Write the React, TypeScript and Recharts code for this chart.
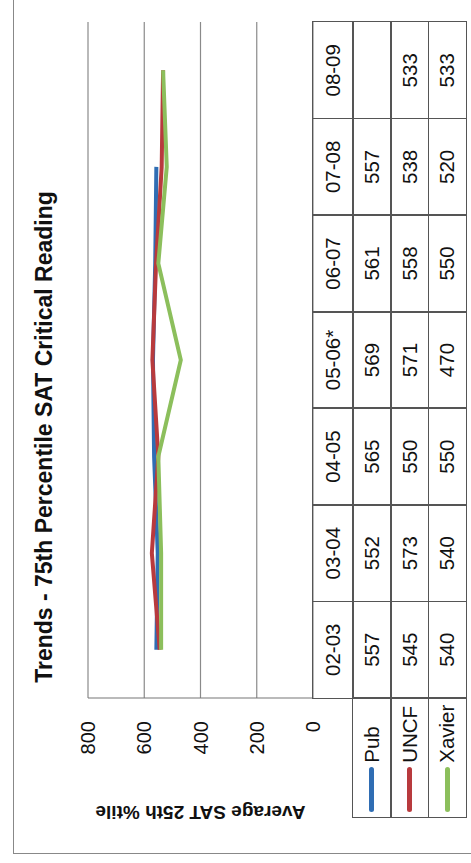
import React from 'react';
import { LineChart, Line, XAxis, YAxis, CartesianGrid } from 'recharts';

const CATEGORIES = ['02-03', '03-04', '04-05', '05-06*', '06-07', '07-08', '08-09'];
const PUB = [557, 552, 565, 569, 561, 557, null];
const UNCF = [545, 573, 550, 571, 558, 538, 533];
const XAVIER = [540, 540, 550, 470, 550, 520, 533];
const Y_TICKS = [0, 200, 400, 600, 800];

const SERIES = [
  { key: 'pub', name: 'Pub', values: PUB, color: '#2f6db3' },
  { key: 'uncf', name: 'UNCF', values: UNCF, color: '#b83a3d' },
  { key: 'xavier', name: 'Xavier', values: XAVIER, color: '#8cbf5c' },
];

// landscape geometry, the whole thing is turned a quarter turn afterwards
const W = 863;
const H = 471;
const PLOT_LEFT = 165;
const PLOT_RIGHT = 841;
const PLOT_TOP = 88;
const PLOT_BOTTOM = 313;
const COL_W = (PLOT_RIGHT - PLOT_LEFT) / CATEGORIES.length;
const LABEL_LEFT = 46;
const HEADER_H = 40;
const ROW_H = 37.7;
const BORDER = '#555';
const FONT = '"Liberation Sans", Arial, sans-serif';

const chartData = CATEGORIES.map((cat, i) => {
  const row: any = { cat };
  SERIES.forEach(s => { row[s.key] = s.values[i]; });
  return row;
});

const cell = (left: number, top: number, width: number, height: number): React.CSSProperties => ({
  position: 'absolute',
  left,
  top,
  width,
  height,
  boxSizing: 'border-box',
  border: `1.6px solid ${BORDER}`,
  marginLeft: -0.8,
  marginTop: -0.8,
  display: 'flex',
  alignItems: 'center',
  justifyContent: 'center',
  fontSize: 20.5,
  color: '#111',
});

const DataTable = () => (
  <>
    {CATEGORIES.map((cat, i) => (
      <div key={cat} style={cell(PLOT_LEFT + i * COL_W, PLOT_BOTTOM, COL_W + 1.6, HEADER_H + 1.6)}>
        {cat}
      </div>
    ))}
    {SERIES.map((s, r) => {
      const top = PLOT_BOTTOM + HEADER_H + r * ROW_H;
      return (
        <React.Fragment key={s.key}>
          <div style={{ ...cell(LABEL_LEFT, top, PLOT_LEFT - LABEL_LEFT + 1.6, ROW_H + 1.6), justifyContent: 'flex-start' }}>
            <span style={{ display: 'inline-block', width: 45, height: 5, borderRadius: 3, background: s.color, marginLeft: 5, marginRight: 4 }} />
            <span>{s.name}</span>
          </div>
          {s.values.map((v, i) => (
            <div key={i} style={cell(PLOT_LEFT + i * COL_W, top, COL_W + 1.6, ROW_H + 1.6)}>
              {v == null ? '' : v}
            </div>
          ))}
        </React.Fragment>
      );
    })}
  </>
);

export default function App() {
  return (
    <div style={{ position: 'absolute', left: 0, top: 0, width: H, height: W, overflow: 'hidden', background: '#fff', fontFamily: FONT }}>
      <div
        style={{
          position: 'absolute',
          left: 0,
          top: 0,
          width: W,
          height: H,
          transformOrigin: '0 0',
          transform: `translate(0px, ${W}px) rotate(-90deg)`,
        }}
      >
        {/* frame of the scanned chart */}
        <div style={{ position: 'absolute', left: 9, top: 13, right: 0, bottom: 0, borderLeft: '1px solid #888', borderTop: '1px solid #888' }} />

        <div style={{ position: 'absolute', left: 126, top: 30, width: 600, textAlign: 'center', fontSize: 23, lineHeight: '28px', fontWeight: 'bold', color: '#111' }}>
          Trends - 75th Percentile SAT Critical Reading
        </div>

        <div style={{ position: 'absolute', left: 0, top: 0 }}>
          <LineChart
            width={W}
            height={H}
            data={chartData}
            margin={{ top: PLOT_TOP, right: W - PLOT_RIGHT, bottom: H - PLOT_BOTTOM, left: 0 }}
          >
            <CartesianGrid vertical={false} stroke="#8a8a8a" strokeWidth={1.2} />
            <XAxis dataKey="cat" hide padding={{ left: COL_W / 2, right: COL_W / 2 }} />
            <YAxis
              width={PLOT_LEFT}
              domain={[0, 800]}
              ticks={Y_TICKS}
              interval={0}
              tickLine={false}
              tickSize={0}
              tickMargin={23}
              axisLine={{ stroke: '#777', strokeWidth: 1.2 }}
              tick={{ fill: '#111', fontSize: 20, fontFamily: FONT }}
              label={{
                value: 'Average SAT 25th %tile',
                angle: -90,
                position: 'insideLeft',
                offset: 50,
                fill: '#111',
                fontSize: 19,
                fontWeight: 'bold',
                fontFamily: FONT,
                style: { textAnchor: 'middle' },
              }}
            />
            {SERIES.map(s => (
              <Line
                key={s.key}
                type="linear"
                dataKey={s.key}
                name={s.name}
                stroke={s.color}
                strokeWidth={4}
                dot={false}
                activeDot={false}
                isAnimationActive={false}
              />
            ))}
          </LineChart>
        </div>

        <DataTable />
      </div>
    </div>
  );
}
